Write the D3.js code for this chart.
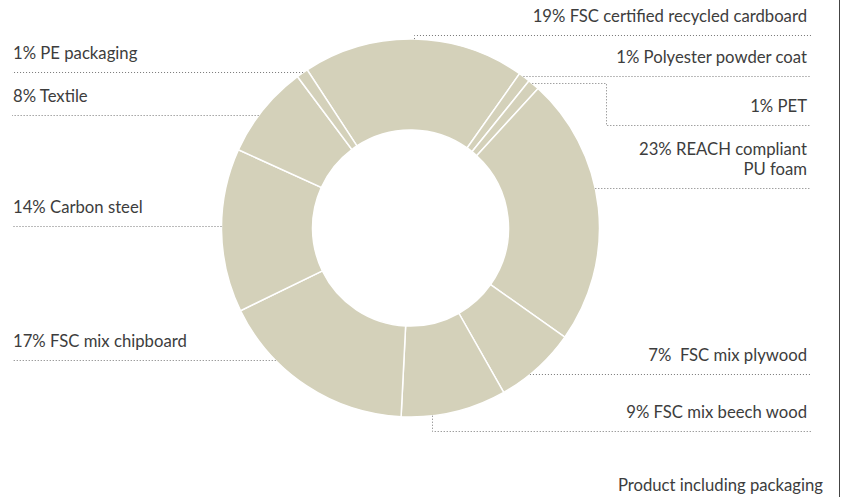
<!DOCTYPE html>
<html>
<head>
<meta charset="utf-8">
<script src="https://cdn.jsdelivr.net/npm/d3@7"></script>
<style>
  body { margin: 0; background: #fff; }
  text { font-family: Lato, "Open Sans", sans-serif; font-size: 16.7px; fill: #3d3d3d; white-space: pre; }
</style>
</head>
<body>
<div class="canvas"></div>
<script>
// Data
const materials = [
  'FSC certified recycled cardboard',
  'Polyester powder coat',
  'PET',
  'REACH compliant PU foam',
  'FSC mix plywood',
  'FSC mix beech wood',
  'FSC mix chipboard',
  'Carbon steel',
  'Textile',
  'PE packaging'
];
const shares = [19, 1, 1, 23, 7, 9, 17, 14, 8, 1];
const labelLines = [
  ['19% FSC certified recycled cardboard'],
  ['1% Polyester powder coat'],
  ['1% PET'],
  ['23% REACH compliant', 'PU foam'],
  ['7%  FSC mix plywood'],
  ['9% FSC mix beech wood'],
  ['17% FSC mix chipboard'],
  ['14% Carbon steel'],
  ['8% Textile'],
  ['1% PE packaging']
];
const footnote = 'Product including packaging';

// Layout
const width = 844, height = 497;
const center = { x: 410.5, y: 228 };
const outer = 189, inner = 98;
const start = -33.15 * Math.PI / 180;
const leftX = 12, rightX = 811;

// label placement: side, y of dotted rule, optional connector shape
const placement = [
  { side: 1, lineY: 35.5, drop: 414.5 },
  { side: 1, lineY: 76.5 },
  { side: 1, lineY: 125.5, elbow: { x: 606.5, y: 83.5 } },
  { side: 1, lineY: 188.5 },
  { side: 1, lineY: 374.5 },
  { side: 1, lineY: 431.5, drop: 432.5 },
  { side: -1, lineY: 360.5 },
  { side: -1, lineY: 226.5 },
  { side: -1, lineY: 115.5 },
  { side: -1, lineY: 72.5 }
];

const svg = d3
  .select('.canvas')
  .append('svg')
  .attr('width', width)
  .attr('height', height);

// Donut
const pie = d3
  .pie()
  .sort(null)
  .startAngle(start)
  .endAngle(start + 2 * Math.PI)
  .value((d) => d);

const arcPath = d3.arc().innerRadius(inner).outerRadius(outer);

svg
  .append('g')
  .attr('transform', `translate(${center.x},${center.y})`)
  .selectAll('path')
  .data(pie(shares))
  .enter()
  .append('path')
  .attr('d', arcPath)
  .attr('fill', '#d4d1ba')
  .attr('stroke', '#fff')
  .attr('stroke-width', 1.5);

// where a rule meets the outer ring
const edgeX = (y, side) => center.x + side * Math.sqrt(outer * outer - (y - center.y) ** 2);
const edgeY = (x, up) => center.y + (up ? -1 : 1) * Math.sqrt(outer * outer - (x - center.x) ** 2);

const connector = (p) => {
  const end = p.side > 0 ? rightX : leftX;
  if (p.drop) {
    const up = p.lineY < center.y;
    return [[p.drop, edgeY(p.drop, up)], [p.drop, p.lineY], [end, p.lineY]];
  }
  if (p.elbow) {
    return [
      [edgeX(p.elbow.y, p.side), p.elbow.y],
      [p.elbow.x, p.elbow.y],
      [p.elbow.x, p.lineY],
      [end, p.lineY]
    ];
  }
  return [[edgeX(p.lineY, p.side), p.lineY], [end, p.lineY]];
};

const labels = svg
  .append('g')
  .selectAll('g')
  .data(materials.map((m, i) => ({ name: m, share: shares[i], lines: labelLines[i], ...placement[i] })))
  .enter()
  .append('g');

labels
  .append('path')
  .attr('d', (d) => d3.line()(connector(d)))
  .attr('fill', 'none')
  .attr('stroke', '#777')
  .attr('stroke-width', 1)
  .attr('stroke-dasharray', '1,2');

labels.each(function (d) {
  const n = d.lines.length;
  d3.select(this)
    .selectAll('text')
    .data(d.lines)
    .enter()
    .append('text')
    .attr('x', d.side > 0 ? 807 : 13)
    .attr('y', (t, j) => d.lineY - 14 - (n - 1 - j) * 20)
    .attr('text-anchor', d.side > 0 ? 'end' : 'start')
    .text((t) => t);
});

svg
  .append('text')
  .attr('x', 823)
  .attr('y', 491)
  .attr('text-anchor', 'end')
  .text(footnote);

// right frame
svg
  .append('line')
  .attr('x1', 839.5)
  .attr('x2', 839.5)
  .attr('y1', 0)
  .attr('y2', height)
  .attr('stroke', '#444')
  .attr('stroke-width', 1);
</script>
</body>
</html>
